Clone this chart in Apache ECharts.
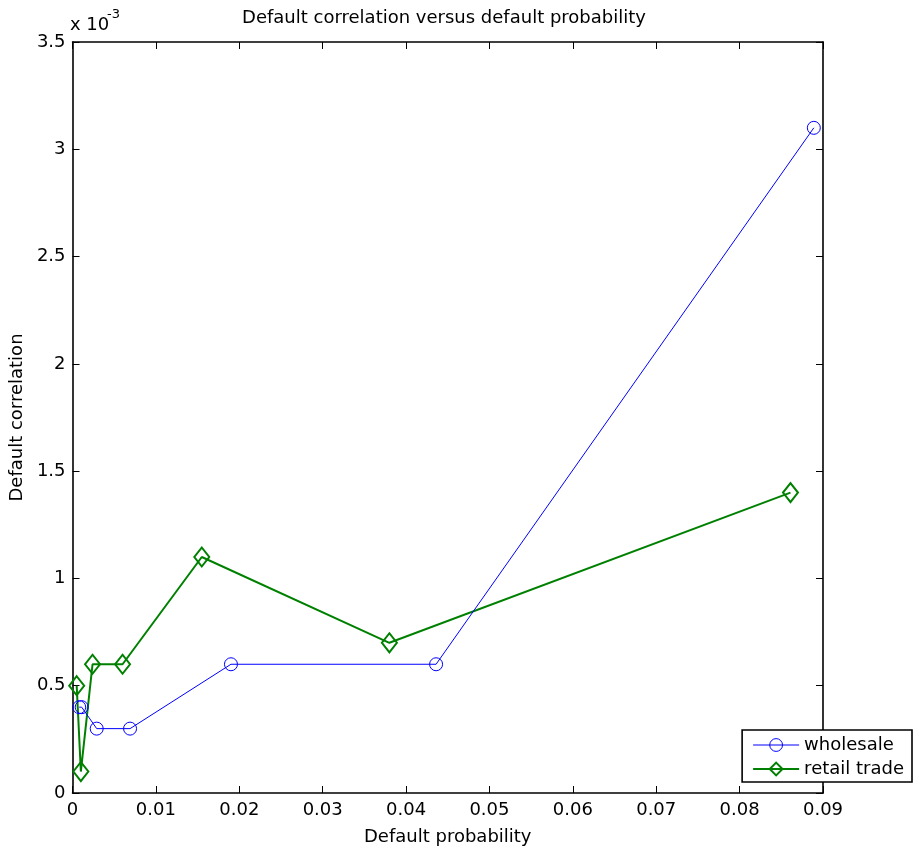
<!DOCTYPE html>
<html>
<head>
<meta charset="utf-8">
<script src="https://cdn.jsdelivr.net/npm/echarts@6/dist/echarts.min.js"></script>
<style>
html,body{margin:0;padding:0;background:#fff;}
#chart{width:913px;height:854px;}
</style>
</head>
<body>
<div id="chart"></div>
<script>
var titleText = 'Default correlation versus default probability';
var xLabel = 'Default probability';
var yLabel = 'Default correlation';
var seriesNames = ['wholesale', 'retail trade'];
var wholesaleX = [0.0008, 0.0011, 0.0029, 0.0069, 0.0190, 0.0436, 0.0889];
var wholesaleY = [0.4, 0.4, 0.3, 0.3, 0.6, 0.6, 3.1];
var retailX = [0.0005, 0.0010, 0.0024, 0.0060, 0.0155, 0.0380, 0.0861];
var retailY = [0.5, 0.1, 0.6, 0.6, 1.1, 0.7, 1.4];
var xTicks = [0, 0.01, 0.02, 0.03, 0.04, 0.05, 0.06, 0.07, 0.08, 0.09];
var yTicks = [0, 0.5, 1, 1.5, 2, 2.5, 3, 3.5];
var scaleText = 'x 10';
var scaleExp = '-3';

function pairs(xs, ys) { return xs.map(function (x, i) { return [x, ys[i]]; }); }

var font = '"DejaVu Sans", Arial, Helvetica, sans-serif';
var fs = 18;
var chart = echarts.init(document.getElementById('chart'));
var axisCommon = {
  axisLine: { show: true, onZero: false, lineStyle: { color: '#000', width: 1.6 } },
  axisTick: { show: true, inside: true, length: 7, lineStyle: { color: '#000', width: 1 } },
  splitLine: { show: false }
};
var xAxisBase = {
  type: 'value', min: xTicks[0], max: xTicks[xTicks.length - 1], interval: 0.01
};
var yAxisBase = {
  type: 'value', min: yTicks[0], max: yTicks[yTicks.length - 1], interval: 0.5
};
chart.setOption({
  animation: false,
  backgroundColor: '#fff',
  grid: { left: 70, right: 90, top: 42, bottom: 61, containLabel: false },
  legend: {
    right: 1, top: 730, orient: 'vertical',
    data: [
      { name: seriesNames[0], lineStyle: { width: 1 }, itemStyle: { color: 'rgba(255,255,255,0)', borderColor: '#0000ff', borderWidth: 1 } },
      { name: seriesNames[1], lineStyle: { width: 2 }, itemStyle: { color: 'rgba(255,255,255,0)', borderColor: '#008000', borderWidth: 2 } }
    ],
    borderColor: '#000', borderWidth: 1.6, backgroundColor: '#fff', borderRadius: 0,
    padding: [5, 8, 3, 10], itemGap: 4, itemWidth: 46, itemHeight: 16,
    textStyle: { fontFamily: font, fontSize: fs, color: '#000', lineHeight: 20 }
  },
  xAxis: [
    Object.assign({}, xAxisBase, axisCommon, {
      position: 'bottom', name: xLabel, nameLocation: 'middle', nameGap: 35,
      nameTextStyle: { fontFamily: font, fontSize: fs, color: '#000' },
      axisLabel: { fontFamily: font, fontSize: fs, color: '#000', margin: 8,
        formatter: function (v) { return +v.toFixed(2) + ''; } }
    }),
    Object.assign({}, xAxisBase, axisCommon, { position: 'top', axisLabel: { show: false } })
  ],
  yAxis: [
    Object.assign({}, yAxisBase, axisCommon, {
      position: 'left', name: yLabel, nameLocation: 'middle', nameGap: 39,
      nameTextStyle: { fontFamily: font, fontSize: fs, color: '#000' },
      axisLabel: { fontFamily: font, fontSize: fs, color: '#000', margin: 7,
        formatter: function (v) { return +v.toFixed(1) + ''; } }
    }),
    Object.assign({}, yAxisBase, axisCommon, { position: 'right', axisLabel: { show: false } })
  ],
  graphic: [
    { type: 'text', x: 444, y: 18,
      style: { text: titleText, fontFamily: font, fontSize: fs, fill: '#000', verticalAlign: 'middle', align: 'center' } },
    { type: 'text', x: 70, y: 25,
      style: { text: scaleText, fontFamily: font, fontSize: fs, fill: '#000', verticalAlign: 'middle', align: 'left' } },
    { type: 'text', x: 107, y: 15,
      style: { text: scaleExp, fontFamily: font, fontSize: 13, fill: '#000', verticalAlign: 'middle', align: 'left' } }
  ],
  series: [
    {
      name: seriesNames[0], type: 'line', data: pairs(wholesaleX, wholesaleY),
      symbol: 'circle', symbolSize: 13, showAllSymbol: true,
      lineStyle: { color: '#0000ff', width: 1 },
      itemStyle: { color: 'rgba(255,255,255,0)', borderColor: '#0000ff', borderWidth: 1 },
      color: '#0000ff', z: 3
    },
    {
      name: seriesNames[1], type: 'line', data: pairs(retailX, retailY),
      symbol: 'diamond', symbolSize: [15, 19], showAllSymbol: true,
      lineStyle: { color: '#008000', width: 2 },
      itemStyle: { color: 'rgba(255,255,255,0)', borderColor: '#008000', borderWidth: 2 },
      color: '#008000', z: 2
    }
  ]
});
</script>
</body>
</html>
